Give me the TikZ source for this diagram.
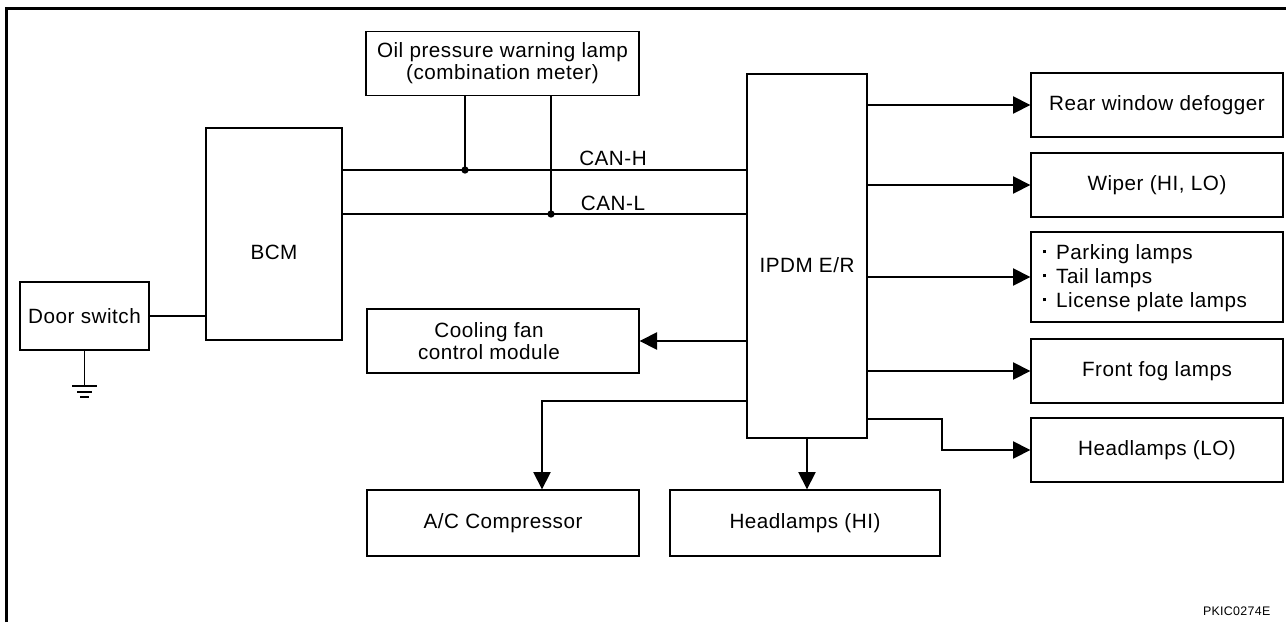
\documentclass[tikz,border=0pt]{standalone}
\usepackage{fontspec}
\setmainfont{Liberation Sans}[LetterSpace=2.5]
\usetikzlibrary{arrows.meta}
\newcommand{\lampdot}{\rule[4.5pt]{2.6pt}{2.6pt}\hspace{7.5pt}}

\begin{document}
\begin{tikzpicture}[x=0.75pt,y=-0.75pt,
	box/.style={rectangle, draw, line width=1pt, inner sep=0pt, minimum height=48pt},
	wire/.style={line width=1pt},
	arr/.style={wire, -{Triangle[length=13pt,width=13pt]}},
	dot/.style={circle, fill, inner sep=0pt, minimum size=5.5pt},
	font=\fontsize{15.5}{17}\selectfont]
\useasboundingbox (0,0) rectangle (1286,622);
\draw[line width=2.6pt] (6.5,622) -- (6.5,8.5) -- (1286,8.5);

\node (oil) at (502.5,63.5) [box, minimum width=204.75pt, align=center, font=\fontsize{15.5}{16.5}\selectfont] {Oil pressure warning lamp\\(combination meter)};
\node (bcm) at (274,234) [box, minimum width=102pt, minimum height=159pt] {};
	\node (bcmtxt) at (274,252) {BCM};
\node (door) at (84.5,316) [box, minimum width=96.75pt, minimum height=51pt] {Door switch};
	\draw[wire] (door.east) -- (door.east -| bcm.west);
	\coordinate (gnd) at (84.5,386);
	\draw[wire] (door.south) -- (gnd);
	\draw[wire] ([shift={(-12.5,0)}]gnd) -- ([shift={(12.5,0)}]gnd);
	\draw[wire] ([shift={(-7.5,6)}]gnd) -- ([shift={(7.5,6)}]gnd);
	\draw[wire] ([shift={(-4.5,11)}]gnd) -- ([shift={(4.5,11)}]gnd);

\node (ipdm) at (807,256) [box, minimum width=90pt, minimum height=273pt] {};
	\node (ipdmtxt) at (807,265) {IPDM E/R};

\coordinate (canh) at (465,170);
\coordinate (canl) at (551,214);
	\draw[wire] (bcm.east |- canh) -- (ipdm.west |- canh);
	\draw[wire] (bcm.east |- canl) -- (ipdm.west |- canl);
	\draw[wire] (oil.south -| canh) -- (canh);
	\draw[wire] (oil.south -| canl) -- (canl);
	\node (dh) at (canh) [dot] {};
	\node (dl) at (canl) [dot] {};
	\node (canhtxt) at (613,158) {CAN-H};
	\node (canltxt) at (613,203) {CAN-L};

\node (cool) at (503,341) [box, minimum width=204pt] {};
	\node (cooltxt) at (489,341) [align=center] {Cooling fan\\control module};
	\draw[arr] (ipdm.west |- cool) -- (cool);
\node (ac) at (503,523) [box, minimum width=204pt, minimum height=49.5pt] {A/C Compressor};
	\coordinate (acbend) at (542,401);
	\draw[arr] (ipdm.west |- acbend) -- (acbend) -- (acbend |- ac.north);
\node (hhi) at (805,523) [box, minimum width=202.5pt, minimum height=49.5pt] {Headlamps (HI)};
	\draw[arr] (ipdm.south) -- (ipdm.south |- hhi.north);

\node (rear) at (1157,105) [box, minimum width=189pt] {Rear window defogger};
	\draw[arr] (ipdm.east |- rear) -- (rear);
\node (wiper) at (1157,185) [box, minimum width=189pt] {Wiper (HI, LO)};
	\draw[arr] (ipdm.east |- wiper) -- (wiper);
\node (park) at (1157,277) [box, minimum width=189pt, minimum height=67.5pt] {};
	\node (parktxt) at (1038,278) [anchor=west, align=left, font=\fontsize{15.5}{18}\selectfont] {\lampdot Parking lamps\\\lampdot Tail lamps\\\lampdot License plate lamps};
	\draw[arr] (ipdm.east |- park) -- (park);
\node (fog) at (1157,371) [box, minimum width=189pt] {Front fog lamps};
	\draw[arr] (ipdm.east |- fog) -- (fog);
\node (hlo) at (1157,450) [box, minimum width=189pt] {Headlamps (LO)};
	\coordinate (hlobend) at (942,419);
	\draw[arr] (ipdm.east |- hlobend) -- (hlobend) |- (hlo);

\node (code) at (1275,611) [anchor=east, font=\fontsize{9.3}{11}\selectfont] {PKIC0274E};
\end{tikzpicture}
\end{document}
